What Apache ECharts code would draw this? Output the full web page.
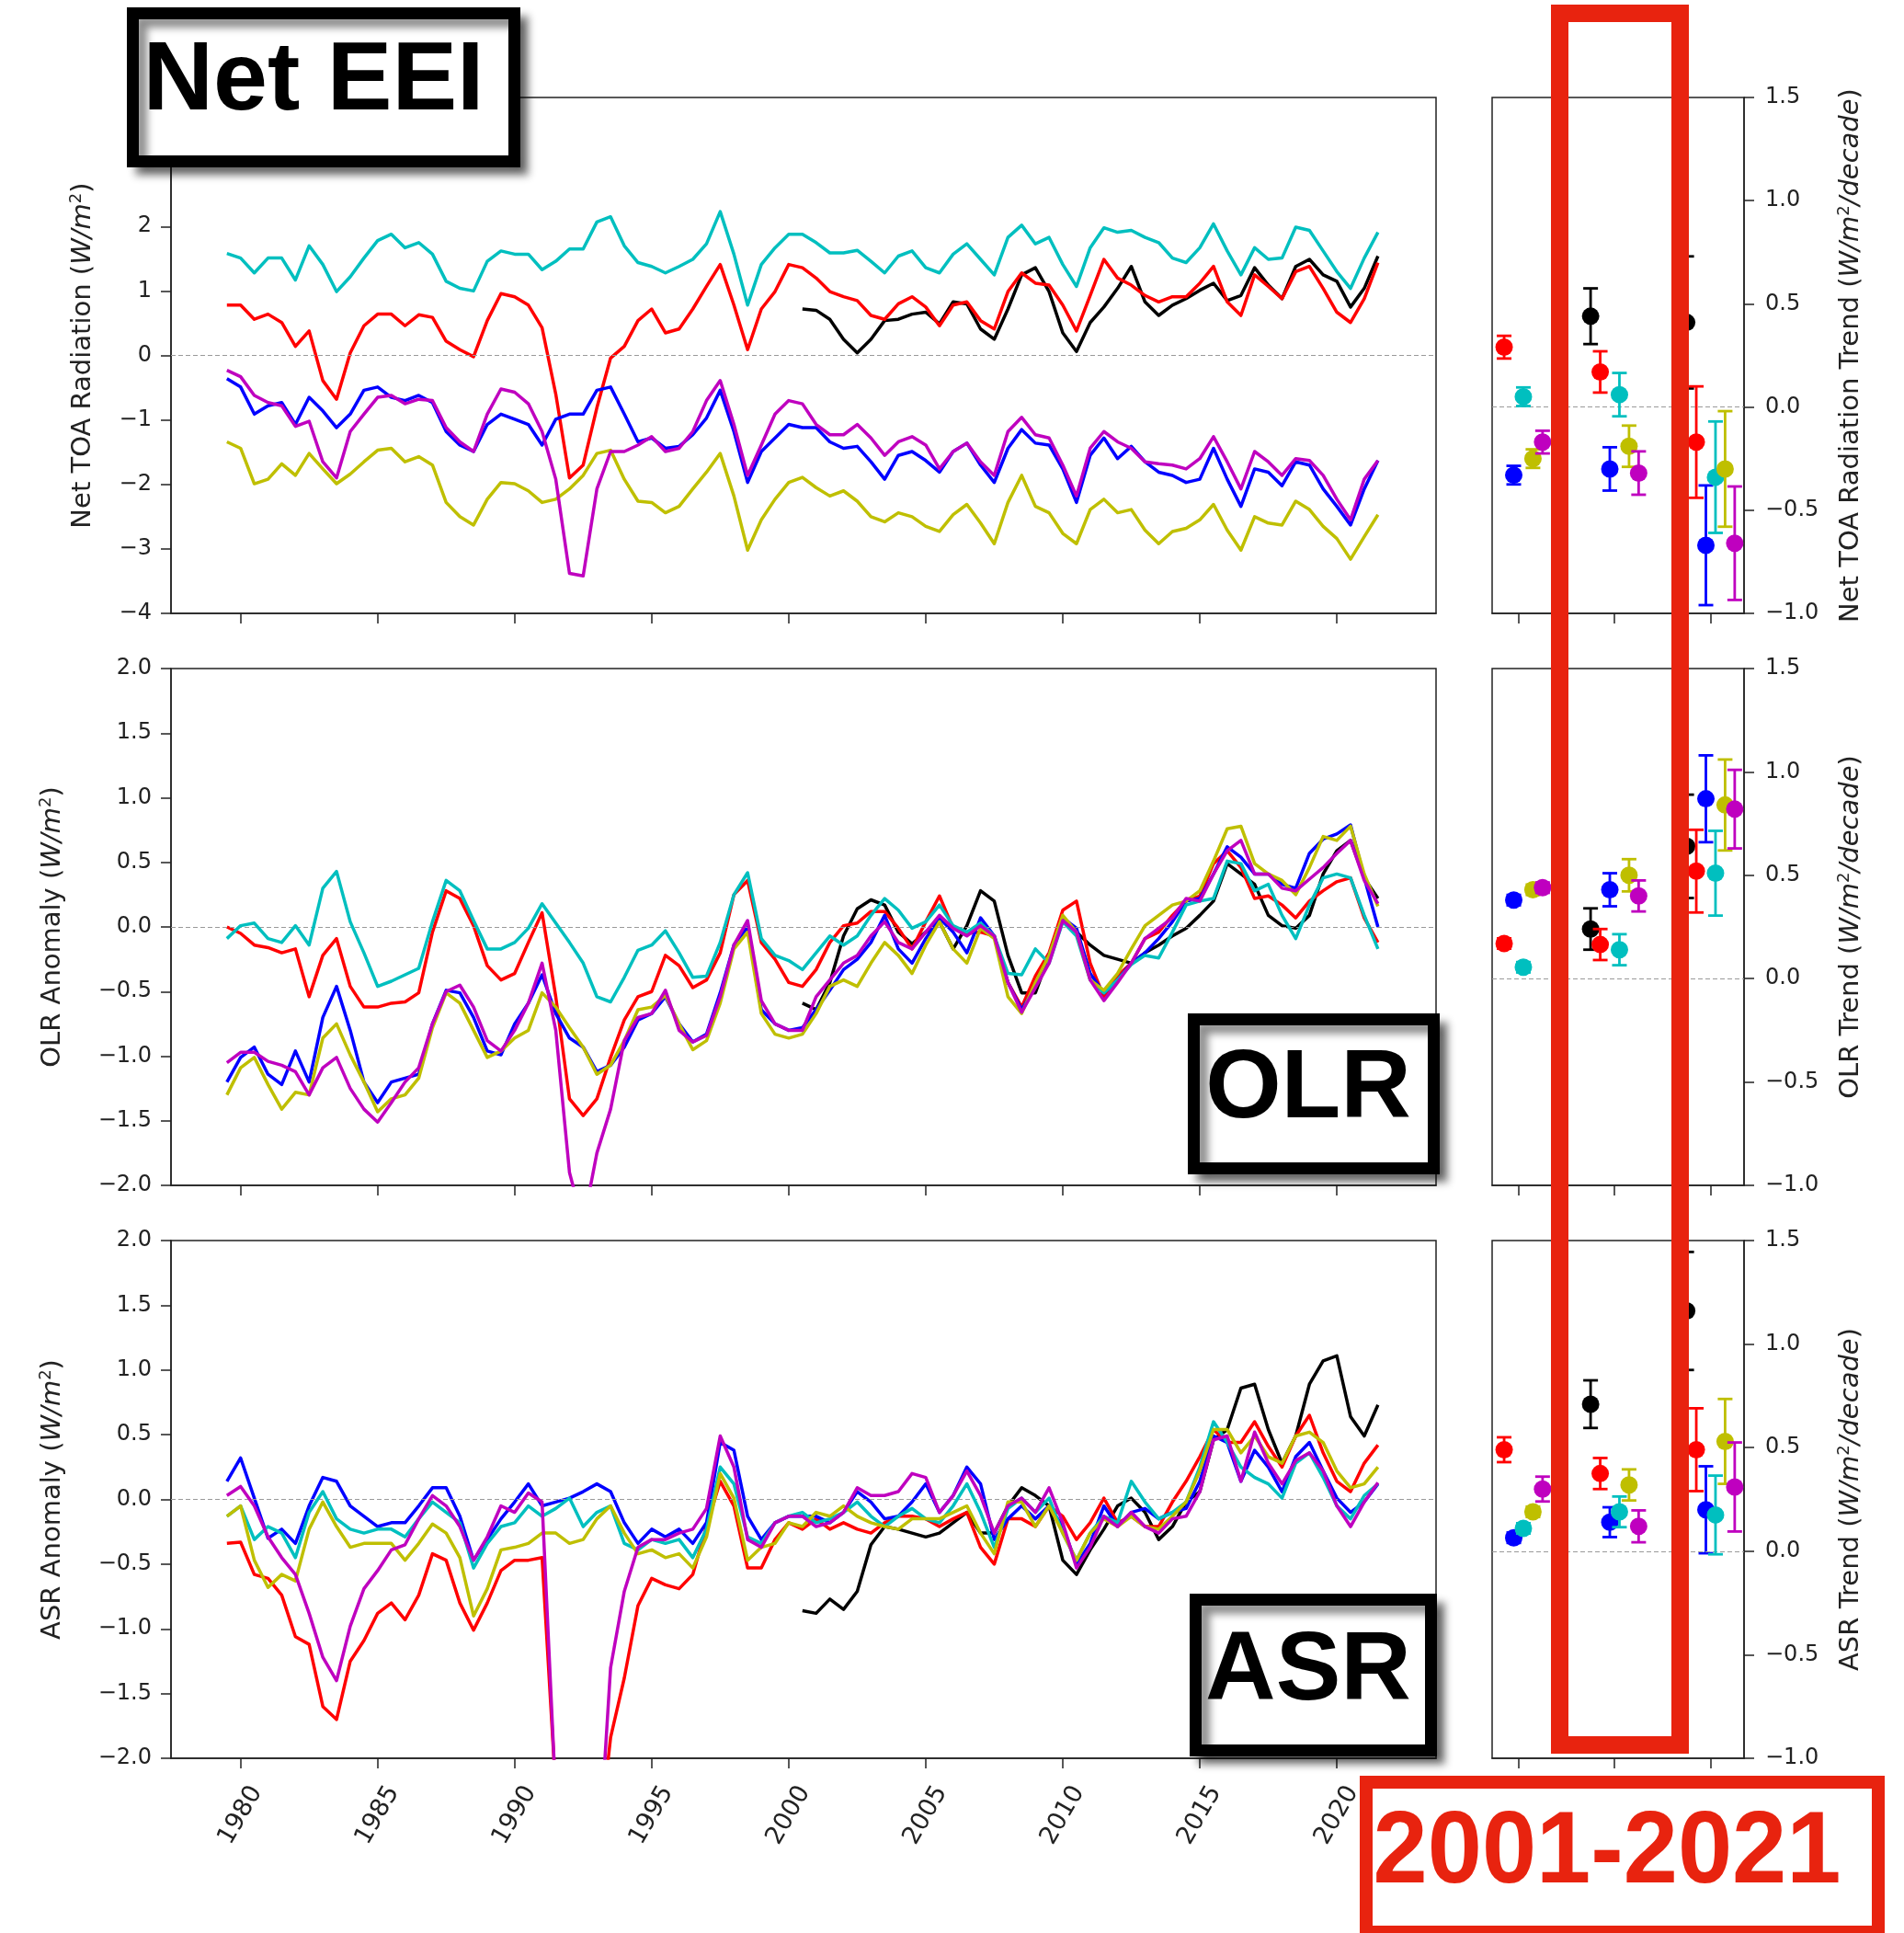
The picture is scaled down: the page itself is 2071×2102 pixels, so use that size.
<!DOCTYPE html>
<html lang="en">
<head>
<meta charset="UTF-8" />
<title>Net EEI / OLR / ASR</title>
<script src="https://cdn.jsdelivr.net/npm/echarts@6.0.0/dist/echarts.min.js"></script>
<style>
  html, body { margin: 0; padding: 0; background: #fff; }
  #box { width: 2071px; height: 2102px; }
</style>
</head>
<body>
<div id="box"></div>
<script>
// half-year time steps, 1979.5 .. 2021.5 ; CERES (black) starts 2000.5
var years = [];
for (var i = 0; i < 85; i++) years.push(1979.5 + 0.5 * i);
var ceresYears = years.slice(42);
var yearTicks = [1980, 1985, 1990, 1995, 2000, 2005, 2010, 2015, 2020];

// ---- Net TOA radiation (W/m2)
var netBlack = [0.72,0.70,0.56,0.25,0.04,0.25,0.54,0.56,0.64,0.67,0.49,0.83,0.80,0.41,0.25,0.72,1.25,1.36,0.99,0.35,0.06,0.51,0.75,1.04,1.38,0.83,0.62,0.78,0.88,1.01,1.12,0.85,0.93,1.36,1.09,0.88,1.38,1.49,1.25,1.15,0.75,1.04,1.54];
var netRed = [0.78,0.78,0.56,0.64,0.51,0.14,0.38,-0.39,-0.68,0.04,0.46,0.64,0.64,0.46,0.63,0.59,0.22,0.09,-0.02,0.54,0.96,0.91,0.78,0.43,-0.60,-1.90,-1.70,-0.81,-0.04,0.14,0.54,0.72,0.35,0.41,0.72,1.07,1.41,0.78,0.09,0.72,0.99,1.41,
  1.36,1.20,0.99,0.91,0.85,0.62,0.56,0.80,0.91,0.75,0.46,0.78,0.83,0.54,0.41,0.99,1.28,1.12,1.09,0.78,0.38,0.93,1.49,1.20,1.09,0.93,0.83,0.91,0.91,1.12,1.38,0.83,0.62,1.25,1.07,0.88,1.30,1.38,1.04,0.67,0.51,0.88,1.44];
var netBlue = [-0.36,-0.49,-0.91,-0.78,-0.73,-1.07,-0.65,-0.86,-1.12,-0.91,-0.54,-0.49,-0.65,-0.70,-0.62,-0.73,-1.18,-1.39,-1.49,-1.07,-0.91,-0.99,-1.07,-1.39,-0.99,-0.91,-0.91,-0.54,-0.49,-0.91,-1.34,-1.28,-1.44,-1.41,-1.23,-0.97,-0.54,-1.18,-1.97,-1.49,-1.28,-1.07,
  -1.12,-1.12,-1.34,-1.44,-1.41,-1.65,-1.92,-1.55,-1.49,-1.63,-1.81,-1.49,-1.36,-1.70,-1.97,-1.44,-1.15,-1.36,-1.39,-1.76,-2.28,-1.55,-1.28,-1.60,-1.41,-1.65,-1.81,-1.86,-1.97,-1.92,-1.44,-1.92,-2.34,-1.76,-1.81,-2.02,-1.65,-1.70,-2.07,-2.34,-2.63,-2.07,-1.63];
var netCyan = [1.58,1.51,1.28,1.51,1.51,1.17,1.70,1.41,0.99,1.22,1.51,1.78,1.88,1.67,1.75,1.57,1.15,1.04,1.00,1.46,1.62,1.57,1.57,1.33,1.46,1.65,1.65,2.07,2.15,1.70,1.44,1.38,1.28,1.38,1.49,1.73,2.23,1.57,0.78,1.41,1.67,1.88,
  1.88,1.75,1.59,1.59,1.63,1.46,1.28,1.54,1.62,1.36,1.28,1.57,1.73,1.49,1.25,1.83,2.02,1.73,1.83,1.41,1.07,1.67,1.98,1.91,1.94,1.83,1.75,1.51,1.44,1.67,2.04,1.62,1.25,1.67,1.49,1.51,1.99,1.94,1.62,1.30,1.04,1.51,1.91];
var netYellow = [-1.34,-1.44,-1.99,-1.92,-1.68,-1.86,-1.52,-1.76,-1.99,-1.84,-1.65,-1.47,-1.44,-1.65,-1.57,-1.70,-2.28,-2.50,-2.63,-2.23,-1.97,-1.99,-2.10,-2.28,-2.23,-2.07,-1.86,-1.52,-1.47,-1.92,-2.26,-2.28,-2.44,-2.34,-2.07,-1.81,-1.52,-2.18,-3.02,-2.55,-2.23,-1.97,
  -1.89,-2.05,-2.18,-2.10,-2.26,-2.50,-2.58,-2.44,-2.50,-2.65,-2.73,-2.47,-2.31,-2.60,-2.92,-2.28,-1.86,-2.34,-2.44,-2.76,-2.92,-2.39,-2.23,-2.44,-2.39,-2.71,-2.92,-2.73,-2.68,-2.55,-2.31,-2.71,-3.02,-2.50,-2.60,-2.63,-2.26,-2.39,-2.65,-2.84,-3.16,-2.81,-2.47];
var netMagenta = [-0.23,-0.33,-0.62,-0.73,-0.78,-1.10,-1.02,-1.65,-1.90,-1.18,-0.91,-0.65,-0.62,-0.75,-0.68,-0.70,-1.12,-1.34,-1.49,-0.91,-0.52,-0.57,-0.75,-1.18,-1.92,-3.38,-3.42,-2.07,-1.49,-1.49,-1.39,-1.26,-1.49,-1.44,-1.18,-0.70,-0.39,-1.07,-1.86,-1.39,-0.91,-0.70,
  -0.75,-1.07,-1.23,-1.23,-1.07,-1.28,-1.55,-1.34,-1.26,-1.39,-1.76,-1.49,-1.36,-1.65,-1.86,-1.18,-0.96,-1.23,-1.28,-1.70,-2.18,-1.44,-1.18,-1.34,-1.44,-1.65,-1.68,-1.70,-1.76,-1.60,-1.26,-1.65,-2.07,-1.49,-1.65,-1.86,-1.60,-1.63,-1.86,-2.23,-2.55,-1.92,-1.63];

// ---- OLR anomaly (W/m2)
var olrBlack = [-0.59,-0.64,-0.43,-0.07,0.14,0.21,0.17,-0.04,-0.13,-0.04,0.04,-0.17,0.01,0.28,0.20,-0.22,-0.51,-0.51,-0.22,0.07,-0.04,-0.14,-0.22,-0.25,-0.28,-0.20,-0.14,-0.07,-0.01,0.09,0.20,0.49,0.41,0.33,0.09,0.01,-0.01,0.09,0.41,0.59,0.67,0.38,0.22];
var olrRed = [0.00,-0.05,-0.14,-0.16,-0.20,-0.17,-0.54,-0.22,-0.09,-0.46,-0.62,-0.62,-0.59,-0.58,-0.51,-0.04,0.28,0.22,0.01,-0.30,-0.41,-0.36,-0.12,0.11,-0.54,-1.33,-1.46,-1.33,-1.01,-0.72,-0.54,-0.50,-0.22,-0.30,-0.47,-0.41,-0.20,0.25,0.36,-0.12,-0.25,-0.43,
  -0.46,-0.33,-0.12,0.01,0.03,0.12,0.12,-0.01,-0.17,0.04,0.24,-0.01,-0.05,-0.04,-0.07,-0.43,-0.62,-0.38,-0.20,0.13,0.20,-0.28,-0.54,-0.38,-0.28,-0.09,-0.04,0.09,0.20,0.24,0.49,0.59,0.46,0.22,0.24,0.17,0.07,0.20,0.28,0.35,0.38,0.07,-0.12];
var olrBlue = [-1.20,-1.01,-0.93,-1.14,-1.22,-0.96,-1.20,-0.70,-0.46,-0.80,-1.20,-1.36,-1.20,-1.17,-1.14,-0.75,-0.49,-0.51,-0.70,-0.96,-0.99,-0.75,-0.59,-0.37,-0.67,-0.86,-0.93,-1.12,-1.07,-0.93,-0.72,-0.67,-0.54,-0.75,-0.89,-0.83,-0.51,-0.14,0.00,-0.64,-0.75,-0.80,
  -0.78,-0.64,-0.49,-0.33,-0.25,-0.12,0.09,-0.17,-0.28,-0.09,0.07,-0.04,-0.20,0.07,-0.07,-0.43,-0.64,-0.46,-0.22,0.07,-0.01,-0.36,-0.51,-0.41,-0.28,-0.20,-0.09,0.04,0.20,0.22,0.41,0.62,0.54,0.41,0.41,0.33,0.30,0.57,0.68,0.72,0.79,0.38,0.00];
var olrCyan = [-0.09,0.01,0.03,-0.09,-0.12,0.01,-0.14,0.30,0.43,0.04,-0.20,-0.46,-0.42,-0.37,-0.32,0.04,0.36,0.28,0.05,-0.17,-0.17,-0.12,-0.01,0.18,0.03,-0.12,-0.28,-0.54,-0.58,-0.39,-0.18,-0.14,-0.03,-0.20,-0.39,-0.38,-0.12,0.25,0.42,-0.09,-0.22,-0.26,
  -0.33,-0.20,-0.07,-0.14,-0.07,0.09,0.22,0.13,-0.01,0.04,0.17,0.01,-0.04,0.03,-0.07,-0.36,-0.37,-0.17,-0.28,0.04,-0.07,-0.41,-0.51,-0.41,-0.29,-0.22,-0.24,-0.04,0.17,0.20,0.22,0.51,0.49,0.28,0.33,0.09,-0.09,0.17,0.38,0.41,0.38,0.09,-0.17];
var olrYellow = [-1.30,-1.09,-1.01,-1.22,-1.41,-1.28,-1.30,-0.86,-0.75,-0.99,-1.20,-1.43,-1.33,-1.30,-1.17,-0.78,-0.51,-0.59,-0.80,-1.01,-0.96,-0.86,-0.80,-0.51,-0.62,-0.78,-0.93,-1.14,-1.07,-0.88,-0.64,-0.62,-0.53,-0.75,-0.95,-0.88,-0.59,-0.17,-0.04,-0.67,-0.83,-0.86,
  -0.83,-0.67,-0.46,-0.41,-0.46,-0.28,-0.12,-0.22,-0.36,-0.14,0.04,-0.17,-0.28,-0.01,-0.09,-0.54,-0.67,-0.43,-0.22,0.09,-0.04,-0.41,-0.49,-0.36,-0.17,0.01,0.09,0.17,0.20,0.28,0.51,0.76,0.78,0.49,0.41,0.36,0.25,0.46,0.70,0.67,0.78,0.41,0.16];
var olrMagenta = [-1.05,-0.97,-0.97,-1.04,-1.07,-1.12,-1.30,-1.09,-1.01,-1.25,-1.41,-1.51,-1.36,-1.20,-1.09,-0.75,-0.50,-0.45,-0.62,-0.88,-0.96,-0.80,-0.59,-0.28,-0.80,-1.90,-2.30,-1.75,-1.41,-0.88,-0.70,-0.67,-0.49,-0.80,-0.89,-0.84,-0.54,-0.14,0.05,-0.57,-0.75,-0.80,
  -0.80,-0.54,-0.41,-0.28,-0.22,-0.07,0.04,-0.12,-0.17,-0.04,0.09,-0.01,-0.07,0.01,-0.07,-0.43,-0.66,-0.47,-0.28,0.05,-0.04,-0.41,-0.57,-0.43,-0.28,-0.09,-0.01,0.07,0.22,0.20,0.41,0.59,0.67,0.41,0.41,0.30,0.28,0.37,0.46,0.57,0.67,0.36,0.18];

// ---- ASR anomaly (W/m2)
var asrBlack = [-0.86,-0.88,-0.77,-0.85,-0.71,-0.35,-0.21,-0.23,-0.26,-0.29,-0.26,-0.18,-0.10,-0.26,-0.26,-0.05,0.09,0.03,-0.05,-0.47,-0.58,-0.39,-0.23,-0.05,0.01,-0.10,-0.31,-0.21,-0.02,0.06,0.46,0.54,0.86,0.89,0.54,0.28,0.49,0.89,1.07,1.11,0.64,0.49,0.73];
var asrRed = [-0.34,-0.33,-0.58,-0.61,-0.74,-1.06,-1.12,-1.60,-1.70,-1.25,-1.09,-0.88,-0.80,-0.93,-0.74,-0.42,-0.47,-0.80,-1.01,-0.80,-0.55,-0.47,-0.47,-0.45,-2.25,-3.00,-3.40,-2.80,-1.84,-1.38,-0.82,-0.61,-0.66,-0.69,-0.58,-0.21,0.14,-0.05,-0.53,-0.53,-0.31,-0.18,
  -0.23,-0.15,-0.23,-0.18,-0.23,-0.26,-0.18,-0.13,-0.13,-0.15,-0.21,-0.15,-0.10,-0.37,-0.50,-0.15,-0.15,-0.21,-0.05,-0.13,-0.31,-0.18,0.01,-0.18,-0.13,-0.21,-0.21,-0.02,0.14,0.33,0.54,0.44,0.44,0.60,0.41,0.25,0.49,0.65,0.36,0.14,0.06,0.28,0.42];
var asrBlue = [0.14,0.32,0.01,-0.30,-0.23,-0.34,-0.05,0.17,0.14,-0.05,-0.13,-0.21,-0.18,-0.18,-0.05,0.09,0.09,-0.13,-0.47,-0.31,-0.15,-0.02,0.12,-0.05,-0.02,0.01,0.06,0.12,0.06,-0.18,-0.34,-0.23,-0.29,-0.23,-0.34,-0.18,0.44,0.38,-0.13,-0.31,-0.18,-0.13,
  -0.13,-0.13,-0.18,-0.10,0.06,-0.02,-0.15,-0.13,-0.02,0.12,-0.10,0.03,0.25,0.12,-0.31,-0.15,-0.05,-0.15,-0.05,-0.21,-0.50,-0.34,-0.05,-0.21,-0.10,-0.07,-0.15,-0.10,-0.07,0.14,0.49,0.44,0.14,0.38,0.25,0.06,0.33,0.44,0.22,0.01,-0.10,-0.02,0.12];
var asrCyan = [-0.13,-0.05,-0.31,-0.21,-0.26,-0.45,-0.10,0.06,-0.15,-0.23,-0.26,-0.23,-0.23,-0.29,-0.15,-0.02,-0.10,-0.18,-0.53,-0.34,-0.21,-0.18,-0.05,-0.13,-0.07,0.01,-0.21,-0.10,-0.05,-0.34,-0.39,-0.31,-0.34,-0.31,-0.45,-0.23,0.25,0.12,-0.29,-0.34,-0.18,-0.13,
  -0.10,-0.18,-0.15,-0.10,-0.02,-0.13,-0.21,-0.13,-0.07,-0.15,-0.18,-0.05,0.12,-0.10,-0.37,-0.07,0.01,-0.10,0.01,-0.26,-0.47,-0.26,-0.13,-0.18,0.14,-0.02,-0.15,-0.10,-0.02,0.25,0.60,0.44,0.25,0.17,0.12,0.01,0.28,0.36,0.17,-0.05,-0.15,0.03,0.12];
var asrYellow = [-0.13,-0.05,-0.47,-0.68,-0.58,-0.63,-0.23,-0.02,-0.21,-0.37,-0.34,-0.34,-0.34,-0.47,-0.34,-0.19,-0.26,-0.45,-0.90,-0.69,-0.39,-0.37,-0.34,-0.26,-0.26,-0.34,-0.31,-0.15,-0.05,-0.26,-0.42,-0.39,-0.45,-0.42,-0.53,-0.29,0.20,0.01,-0.47,-0.37,-0.34,-0.18,
  -0.21,-0.10,-0.13,-0.05,-0.13,-0.18,-0.21,-0.23,-0.15,-0.15,-0.15,-0.10,-0.05,-0.26,-0.42,-0.02,-0.02,-0.21,-0.05,-0.26,-0.47,-0.26,-0.15,-0.21,-0.13,-0.21,-0.23,-0.13,-0.02,0.22,0.54,0.54,0.36,0.49,0.33,0.28,0.49,0.52,0.44,0.22,0.09,0.12,0.25];
var asrMagenta = [0.03,0.10,-0.05,-0.29,-0.45,-0.58,-0.88,-1.22,-1.40,-0.98,-0.69,-0.55,-0.39,-0.35,-0.15,0.03,-0.05,-0.21,-0.47,-0.29,-0.05,-0.10,0.05,-0.02,-2.30,-4.00,-4.50,-3.00,-1.30,-0.71,-0.37,-0.31,-0.31,-0.26,-0.23,-0.07,0.49,0.25,-0.31,-0.37,-0.18,-0.13,
  -0.13,-0.21,-0.18,-0.10,0.09,0.03,0.03,0.06,0.20,0.17,-0.10,0.03,0.22,0.03,-0.26,-0.05,0.01,-0.10,0.09,-0.18,-0.53,-0.37,-0.13,-0.21,-0.10,-0.21,-0.26,-0.15,-0.13,0.06,0.46,0.49,0.14,0.52,0.28,0.12,0.30,0.36,0.22,-0.05,-0.21,-0.02,0.13];

// ---- trends (W/m2/decade), [period][black, red, blue, cyan, yellow, magenta]
var netTrend = [[null,0.29,-0.33,0.05,-0.25,-0.17],[0.44,0.17,-0.30,0.06,-0.19,-0.32],[0.41,-0.17,-0.67,-0.34,-0.30,-0.66]];
var netTrendErr = [[null,0.055,0.045,0.045,0.045,0.055],[0.135,0.10,0.105,0.105,0.10,0.105],[0.32,0.27,0.29,0.27,0.28,0.275]];
var olrTrend = [[null,0.17,0.38,0.055,0.43,0.44],[0.24,0.165,0.43,0.14,0.50,0.40],[0.64,0.52,0.87,0.51,0.84,0.82]];
var olrTrendErr = [[null,0.025,0.025,0.025,0.025,0.025],[0.10,0.075,0.08,0.075,0.078,0.075],[0.25,0.20,0.21,0.205,0.22,0.19]];
var asrTrend = [[null,0.49,0.065,0.11,0.19,0.30],[0.71,0.375,0.14,0.19,0.32,0.12],[1.16,0.49,0.20,0.175,0.53,0.31]];
var asrTrendErr = [[null,0.06,0.025,0.025,0.025,0.06],[0.115,0.075,0.072,0.074,0.075,0.077],[0.285,0.20,0.21,0.19,0.205,0.215]];

var colors = ["#000000", "#ff0000", "#0000ff", "#00bfbf", "#bfbf00", "#bf00bf"];
var offsets = [-0.25, -0.15, -0.05, 0.05, 0.15, 0.25];
var ink = "#222";
var fam = "DejaVu Sans";
var red = "#e8230f";

var panels = [
  { lines: [netBlack, netRed, netBlue, netCyan, netYellow, netMagenta], min: -4, max: 4, step: 1, dec: 0,
    name: "Net TOA Radiation ({i|W/m}{s|2})", gap: 80,
    trend: netTrend, err: netTrendErr, tname: "Net TOA Radiation Trend ({i|W/m}{s|2}{i|/decade})" },
  { lines: [olrBlack, olrRed, olrBlue, olrCyan, olrYellow, olrMagenta], min: -2, max: 2, step: 0.5, dec: 1,
    name: "OLR Anomaly ({i|W/m}{s|2})", gap: 113,
    trend: olrTrend, err: olrTrendErr, tname: "OLR Trend ({i|W/m}{s|2}{i|/decade})" },
  { lines: [asrBlack, asrRed, asrBlue, asrCyan, asrYellow, asrMagenta], min: -2, max: 2, step: 0.5, dec: 1,
    name: "ASR Anomaly ({i|W/m}{s|2})", gap: 113,
    trend: asrTrend, err: asrTrendErr, tname: "ASR Trend ({i|W/m}{s|2}{i|/decade})" }
];
var tops = [106, 727, 1349];
var heights = [561, 562, 563];

function minus(s) { return s.replace("-", "\u2212"); }
var nameStyle = {
  fontFamily: fam, fontSize: 29, color: ink,
  rich: {
    i: { fontFamily: fam, fontSize: 29, fontStyle: "italic", color: ink },
    s: { fontFamily: fam, fontSize: 18, color: ink, padding: [0, 0, 14, 0] }
  }
};
var lineSt = { color: ink, width: 1.5 };

var grid = [], xAxis = [], yAxis = [], series = [];
panels.forEach(function (p, k) {
  grid.push({ left: 186, top: tops[k], width: 1376, height: heights[k], show: true, borderColor: ink, borderWidth: 1.5 });
  xAxis.push({
    type: "value", gridIndex: k, min: 1977.46, max: 2023.62,
    splitLine: { show: false },
    axisLine: { onZero: false, lineStyle: lineSt },
    axisTick: { customValues: yearTicks, length: 11, lineStyle: lineSt },
    axisLabel: k === 2 ? {
      customValues: yearTicks, rotate: 60, align: "center", verticalAlign: "middle", margin: 62,
      fontFamily: fam, fontSize: 27, color: ink,
      formatter: function (v) { return String(v); }
    } : { show: false }
  });
  yAxis.push({
    type: "value", gridIndex: k, min: p.min, max: p.max, interval: p.step,
    splitLine: { show: false },
    axisLine: { show: true, onZero: false, lineStyle: lineSt },
    axisTick: { length: 11, lineStyle: lineSt },
    axisLabel: {
      margin: 21, fontFamily: fam, fontSize: 24, color: ink,
      formatter: (function (d) { return function (v) { return minus(v.toFixed(d)); }; })(p.dec)
    },
    name: p.name, nameLocation: "middle", nameRotate: 90, nameGap: p.gap, nameTextStyle: nameStyle
  });
});
panels.forEach(function (p, k) {
  grid.push({ left: 1623, top: tops[k], width: 274, height: heights[k], show: true, borderColor: ink, borderWidth: 1.5 });
  xAxis.push({
    type: "value", gridIndex: 3 + k, min: -0.275, max: 2.347,
    splitLine: { show: false },
    axisLine: { onZero: false, lineStyle: lineSt },
    axisTick: { customValues: [0, 1, 2], length: 11, lineStyle: lineSt },
    axisLabel: { show: false }
  });
  yAxis.push({
    type: "value", gridIndex: 3 + k, position: "right", min: -1, max: 1.5, interval: 0.5,
    splitLine: { show: false },
    axisLine: { show: true, onZero: false, lineStyle: lineSt },
    axisTick: { length: 11, lineStyle: lineSt },
    axisLabel: {
      margin: 23, fontFamily: fam, fontSize: 24, color: ink,
      formatter: function (v) { return minus(v.toFixed(1)); }
    },
    name: p.tname, nameLocation: "middle", nameRotate: 90, nameGap: 100, nameTextStyle: nameStyle
  });
});

var zeroLine = {
  silent: true, symbol: "none", label: { show: false }, animation: false,
  lineStyle: { color: "#9a9a9a", type: [5, 3], width: 1.2 },
  data: [{ yAxis: 0 }]
};

function errBar(color) {
  return function (params, api) {
    var x = api.value(0), y = api.value(1), e = api.value(2);
    var c = api.coord([x, y]);
    var t = api.coord([x, y + e])[1];
    var b = api.coord([x, y - e])[1];
    var st = { stroke: color, lineWidth: 2.8 };
    return {
      type: "group",
      children: [
        { type: "line", shape: { x1: c[0], y1: t, x2: c[0], y2: b }, style: st },
        { type: "line", shape: { x1: c[0] - 8, y1: t, x2: c[0] + 8, y2: t }, style: st },
        { type: "line", shape: { x1: c[0] - 8, y1: b, x2: c[0] + 8, y2: b }, style: st },
        { type: "circle", shape: { cx: c[0], cy: c[1], r: 9.5 }, style: { fill: color } }
      ]
    };
  };
}

panels.forEach(function (p, k) {
  p.lines.forEach(function (vals, s) {
    var xs = s === 0 ? ceresYears : years;
    var s1 = {
      type: "line", xAxisIndex: k, yAxisIndex: k, z: 2 + s,
      data: vals.map(function (v, j) { return [xs[j], v]; }),
      showSymbol: false, symbol: "none", clip: true,
      lineStyle: { color: colors[s], width: 3.5, join: "round" }, itemStyle: { color: colors[s] }
    };
    if (s === 0) s1.markLine = zeroLine;
    series.push(s1);
  });
  colors.forEach(function (col, s) {
    var d = [];
    for (var g = 0; g < 3; g++) {
      if (p.trend[g][s] !== null) d.push([g + offsets[s], p.trend[g][s], p.err[g][s]]);
    }
    var s2 = {
      type: "custom", xAxisIndex: 3 + k, yAxisIndex: 3 + k, z: 2 + s,
      dimensions: ["x", "y", "e"], encode: { x: 0, y: 1 },
      renderItem: errBar(col), data: d
    };
    if (s === 0) s2.markLine = zeroLine;
    series.push(s2);
  });
});

var shadow = { shadowBlur: 8, shadowOffsetX: 9, shadowOffsetY: 9, shadowColor: "rgba(0,0,0,0.45)" };
function boxStyle(stroke, w, sh) {
  var st = { fill: "#fff", stroke: stroke, lineWidth: w };
  if (sh) for (var key in shadow) st[key] = shadow[key];
  return st;
}
function label(text, x, y, size, color, sx) {
  return {
    type: "text", x: x, y: y, z: 101, scaleX: sx || 1,
    style: { text: text, fontSize: size, fontWeight: "bold", fontFamily: "Liberation Sans", fill: color,
      align: "center", verticalAlign: "middle", textAlign: "center", textVerticalAlign: "middle" }
  };
}

var graphic = [
  { type: "rect", z: 100, shape: { x: 144.5, y: 14.5, width: 415, height: 161 }, style: boxStyle("#000", 13, true) },
  label("Net EEI", 341, 90, 106, "#000"),
  { type: "rect", z: 100, shape: { x: 1298.5, y: 1108.5, width: 261, height: 162 }, style: boxStyle("#000", 13, true) },
  label("OLR", 1423, 1186, 106, "#000"),
  { type: "rect", z: 100, shape: { x: 1300.5, y: 1739.5, width: 256, height: 164 }, style: boxStyle("#000", 13, true) },
  label("ASR", 1423, 1819, 106, "#000"),
  { type: "rect", z: 102, shape: { x: 1696.5, y: 14.5, width: 131, height: 1883 }, style: { fill: null, stroke: red, lineWidth: 19 } },
  { type: "rect", z: 100, shape: { x: 1486, y: 1938, width: 557, height: 163 }, style: boxStyle(red, 14, false) },
  label("2001-2021", 1748, 2016, 112, red, 0.95)
];

var myChart = echarts.init(document.getElementById("box"));
myChart.setOption({
  animation: false,
  backgroundColor: "#fff",
  grid: grid,
  xAxis: xAxis,
  yAxis: yAxis,
  series: series,
  graphic: graphic
});
</script>
</body>
</html>
